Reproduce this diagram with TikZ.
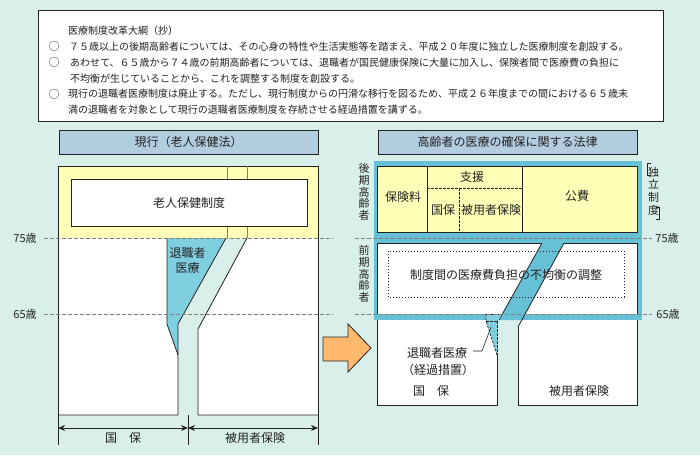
\documentclass[tikz,border=0pt]{standalone}
\usepackage{fontspec}
\setmainfont{Noto Sans CJK JP}
\usetikzlibrary{arrows.meta}
\definecolor{bgmint}{HTML}{D9F0EA}
\definecolor{hdrblue}{HTML}{B3CDE0}
\definecolor{ylw}{HTML}{FFFFB8}
\definecolor{lblue}{HTML}{7FCFE1}
\definecolor{cyanf}{HTML}{66C0D6}
\definecolor{orng}{HTML}{FFB86C}
\definecolor{ink}{HTML}{222222}
\definecolor{ageg}{HTML}{808080}
\begin{document}
\begin{tikzpicture}[x=1pt,y=-1pt,line join=miter,
  ln/.style={draw=ink,line width=0.8pt},
  thin/.style={draw=ink,line width=0.6pt},
  agel/.style={draw=ageg,line width=0.8pt,dash pattern=on 4pt off 2pt},
  dsh/.style={draw=ink,line width=0.7pt,dash pattern=on 2.5pt off 1.5pt},
  dot/.style={draw=ink,line width=0.8pt,dash pattern=on 1pt off 2pt},
  lbl/.style={font=\fontsize{12}{15}\selectfont,inner sep=0pt,text=ink,align=center},
  agetxt/.style={font=\fontsize{11}{13}\selectfont,inner sep=0pt,text=ink},
  memo/.style={font=\fontsize{10}{12}\selectfont,inner sep=0pt,anchor=west,text=ink},
  bullet/.style={font=\fontsize{11}{12}\selectfont,inner sep=0pt,text=ink},
  vlbl/.style={font=\fontsize{11}{11.7}\selectfont,inner sep=0pt,text=ink,align=center},
  hdr/.style={draw=ink,line width=0.8pt,fill=hdrblue,minimum width=259pt,minimum height=24pt,inner sep=0pt,font=\fontsize{12}{14}\selectfont,text=ink},
  dim/.style={draw=ink,line width=0.8pt,{Stealth[length=7pt,width=6pt]}-{Stealth[length=7pt,width=6pt]}}
]
\fill[bgmint] (0,0) rectangle (700,455);
\useasboundingbox (0,0) rectangle (700,455);

% ---------- memo box ----------
\node[draw=ink,line width=0.8pt,fill=white,minimum width=625pt,minimum height=111pt,anchor=north west,inner sep=0pt] (memobox) at (38,10) {};
\node[memo] (m0) at (68,30.5) {医療制度改革大綱（抄）};
\node[bullet] (b1) at (54,46.4) {○};
\node[memo] (m1) at (69,46.4) {７５歳以上の後期高齢者については、その心身の特性や生活実態等を踏まえ、平成２０年度に独立した医療制度を創設する。};
\node[bullet] (b2) at (54,62.3) {○};
\node[memo] (m2) at (70,62.3) {あわせて、６５歳から７４歳の前期高齢者については、退職者が国民健康保険に大量に加入し、保険者間で医療費の負担に};
\node[memo] (m3) at (70,78.2) {不均衡が生じていることから、これを調整する制度を創設する。};
\node[bullet] (b3) at (54,94.1) {○};
\node[memo] (m4) at (68,94.1) {現行の退職者医療制度は廃止する。ただし、現行制度からの円滑な移行を図るため、平成２６年度までの間における６５歳未};
\node[memo] (m5) at (68,110) {満の退職者を対象として現行の退職者医療制度を存続させる経過措置を講ずる。};

% ---------- headers ----------
\node[hdr] (hdrL) at (188.5,142) {現行（老人保健法）};
\node[hdr] (hdrR) at (507.5,142) {高齢者の医療の確保に関する法律};

% ---------- left diagram ----------
\fill[ylw] (58,166) rectangle (318,238);
\draw[ln] (58,238) -- (58,166) -- (318,166) -- (318,238);
\draw[ageg,line width=0.7pt] (227,166) -- (227,179) (247,166) -- (247,179) (227,226) -- (227,238) (247,226) -- (247,238);
\node[draw=ink,line width=0.8pt,fill=white,minimum width=236pt,minimum height=47pt,inner sep=0pt,font=\fontsize{12}{14}\selectfont,text=ink] (roujin) at (189,202.5) {老人保健制度};

\fill[white] (58,238) -- (167,238) -- (167,324) -- (178,355) -- (178,415) -- (58,415) -- cycle;
\fill[white] (247,238) -- (318,238) -- (318,415) -- (198,415) -- (198,329) -- cycle;
\fill[lblue] (167,238) -- (226,238) -- (178,324) -- (178,355) -- (167,324) -- cycle;
\draw[ln] (58,238) -- (58,445);
\draw[ln] (58,415) -- (178,415) -- (178,324) -- (226,238);
\draw[ln] (167,238) -- (167,324) -- (178,355);
\draw[ln] (247,238) -- (198,329) -- (198,415) -- (318,415);
\draw[ln] (318,238) -- (318,445);
\draw[ln] (188,415) -- (188,445);
\node[lbl] (taishokuL) at (187.5,260.5) {退職者\\医療};

\draw[agel] (44,238) -- (333,238);
\draw[agel] (44,314) -- (333,314);
\node[agetxt] (a75L) at (25,238) {75歳};
\node[agetxt] (a65L) at (25,314) {65歳};

\coordinate (dA) at (58,428);
\coordinate (dB) at (188,428);
\coordinate (dC) at (318,428);
\draw[dim] (dA) -- (dB);
\draw[dim] (dB) -- (dC);
\node[lbl] (kokuhoL) at (123,438) {国　保};
\node[lbl] (hiyouL) at (255,438) {被用者保険};

% ---------- orange arrow ----------
\draw[ln,fill=orng] (323,337) -- (348,337) -- (348,324) -- (371,348) -- (348,372) -- (348,361) -- (323,361) -- cycle;

% ---------- right diagram ----------
\fill[white] (377,314) rectangle (497,405);
\fill[white] (525,314) -- (637,314) -- (637,405) -- (518,405) -- (518,327) -- cycle;
\draw[ln] (377,314) -- (377,405) -- (497,405) -- (497,355);
\draw[ln] (518,327) -- (518,405) -- (637,405) -- (637,314);

\fill[cyanf] (374,161) rectangle (642,320);
\draw[ln,fill=ylw] (377,166) rectangle (637,232);
\fill[white] (377,243) rectangle (637,314);
\draw[ln] (377,314) -- (377,243) -- (542,243);
\draw[ln] (564,243) -- (637,243) -- (637,314);
\fill[cyanf] (542,243) -- (564,243) -- (522,320) -- (499,320) -- cycle;
\draw[ln] (542,243) -- (499,320);
\draw[ln] (564,243) -- (518,327);

\draw[ln] (427,166) -- (427,232);
\draw[ln] (522,166) -- (522,232);
\draw[dsh] (427,188) -- (522,188);
\draw[dsh] (459,188) -- (459,232);
\node[lbl] (hokenryo) at (403,197) {保険料};
\node[lbl] (shien) at (472,177) {支援};
\node[lbl] (kokuhoY) at (443,210) {国保};
\node[lbl] (hiyouY) at (491,210) {被用者保険};
\node[lbl] (kouhi) at (577,196) {公費};

\draw[dot] (388,251) rectangle (624,297);
\node[lbl] (chousei) at (506,275) {制度間の医療費負担の不均衡の調整};

\fill[lblue] (486,314) -- (502,314) -- (497,323) -- (497,355) -- (486,321) -- cycle;
\draw[dsh] (486,314) -- (502,314);
\draw[dsh] (486,314) -- (486,321) -- (497,355);
\draw[dsh] (486,321) -- (498,321);
\draw[dsh] (497,321) -- (497,355);

\node[lbl] (taishokuR) at (437,353) {退職者医療};
\node[lbl] (keika) at (438,370) {（経過措置）};
\coordinate (leadA) at (491,327);
\coordinate (leadB) at (473,351);
\draw[thin] (leadB) -- (482,351) -- (leadA);
\node[lbl] (kokuhoR) at (431,391) {国　保};
\node[lbl] (hiyouR) at (579,391) {被用者保険};

\draw[agel] (355,238) -- (652,238);
\draw[agel] (355,314) -- (652,314);
\node[agetxt] (a75R) at (667,238) {75歳};
\node[agetxt] (a65R) at (668,314) {65歳};

\node[vlbl] (kouki) at (364,192) {後\\期\\高\\齢\\者};
\node[vlbl] (zenki) at (364,274) {前\\期\\高\\齢\\者};
\node[font=\fontsize{11}{12.6}\selectfont,inner sep=0pt,text=ink,align=center] (dokuritsu) at (653.5,191) {独\\立\\制\\度};
\draw[thin] (650.5,163) -- (647.5,163) -- (647.5,175) -- (650.5,175);
\draw[thin] (656,207) -- (659,207) -- (659,219) -- (656,219);
\end{tikzpicture}
\end{document}
